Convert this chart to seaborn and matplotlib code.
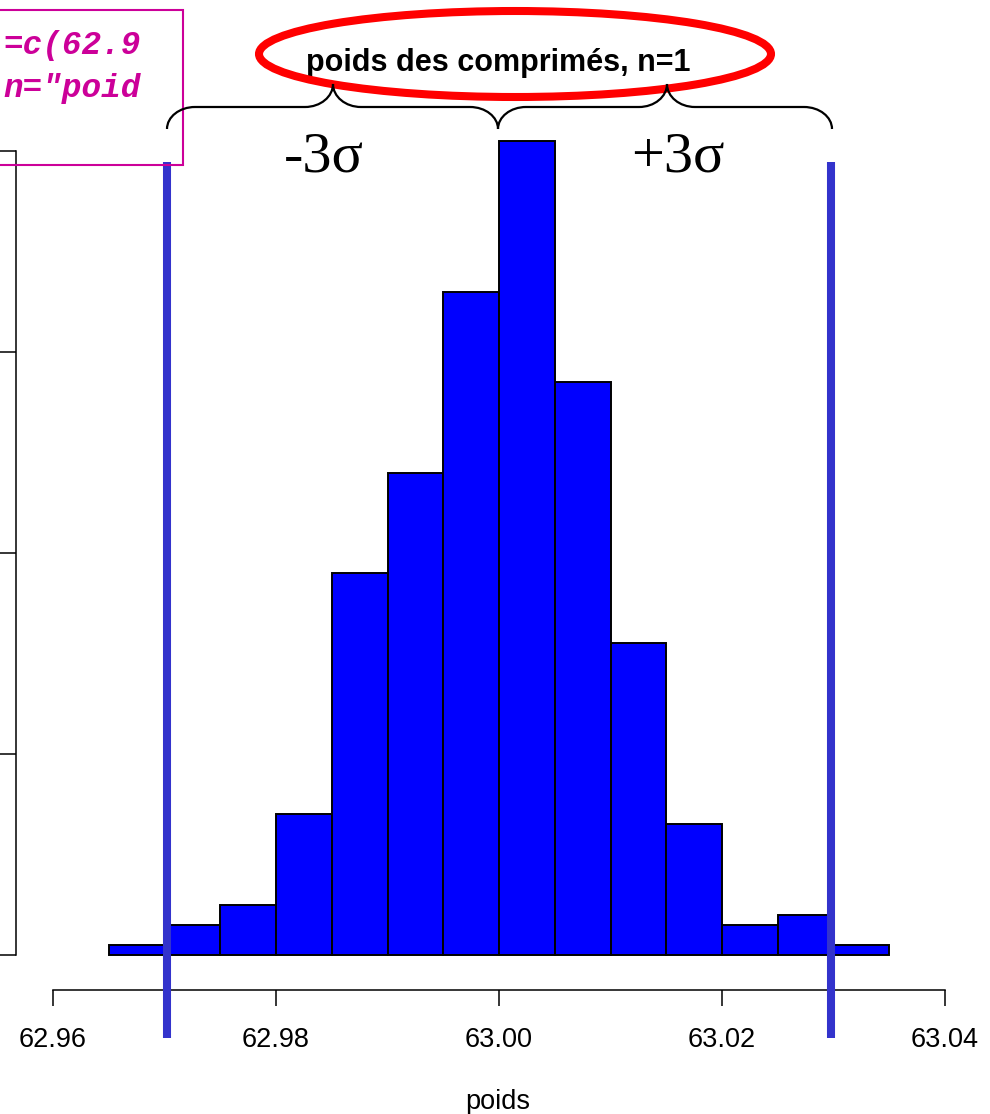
import numpy as np
import pandas as pd
import seaborn as sns
import matplotlib
matplotlib.use("Agg")
import matplotlib.pyplot as plt
from matplotlib.path import Path
from matplotlib.patches import PathPatch, Ellipse, Rectangle

# ---- data ----
bin_edges = [62.965, 62.970, 62.975, 62.980, 62.985, 62.990, 62.995, 63.000,
             63.005, 63.010, 63.015, 63.020, 63.025, 63.030, 63.035]
counts = [1, 3, 5, 14, 38, 48, 66, 81, 57, 31, 13, 3, 4, 1]
limits = [62.9702, 63.0298]          # mean -/+ 3 sigma
x_ticks = [62.96, 62.98, 63.00, 63.02, 63.04]
x_tick_labels = ["62.96", "62.98", "63.00", "63.02", "63.04"]
y_ticks = [0, 20, 40, 60, 80]
title = "poids des comprimés, n=1"
x_label = "poids"
code_lines = ["=c(62.9", 'n="poid']
sigma_labels = ["-3σ", "+3σ"]

centers = [(a + b) / 2 for a, b in zip(bin_edges[:-1], bin_edges[1:])]
df = pd.DataFrame({"poids": centers, "n": counts})

sns.set_style("ticks")
plt.rcParams["font.family"] = ["Liberation Sans", "DejaVu Sans"]
plt.rcParams["text.color"] = "black"
plt.rcParams["xtick.color"] = "black"
plt.rcParams["ytick.color"] = "black"
plt.rcParams["axes.labelcolor"] = "black"

W, H = 990, 1114
fig = plt.figure(figsize=(W / 100, H / 100), dpi=100)
ax = fig.add_axes([0, 0, 1, 1])
ax.patch.set_alpha(0)

# pixel anchors of the reference
px_per_x = (945 - 53) / 0.08
px_per_y = (955 - 151) / 80.0
x0 = 62.96 - 53 / px_per_x
ax.set_xlim(x0, x0 + W / px_per_x)
ax.set_ylim(-(H - 955) / px_per_y, 955 / px_per_y)

sns.histplot(data=df, x="poids", weights="n", bins=bin_edges, ax=ax,
             color="#0000FF", alpha=1, edgecolor="black", linewidth=1.4)

ax.vlines(limits, -(1038 - 955) / px_per_y, (955 - 162) / px_per_y,
          colors="#3333CC", linewidth=5.8, zorder=5)

# R-like detached axes
sns.despine(ax=ax)
ax.spines["bottom"].set_position(("data", -(990 - 955) / px_per_y))
ax.spines["bottom"].set_bounds(62.96, 63.04)
ax.spines["left"].set_position(("data", 62.96 - 37 / px_per_x))
ax.spines["left"].set_bounds(0, 80)
for s in ("bottom", "left"):
    ax.spines[s].set_linewidth(1.1)
    ax.spines[s].set_color("black")
ax.set_xticks(x_ticks)
ax.set_xticklabels(x_tick_labels)
ax.set_yticks(y_ticks)
ax.set_yticklabels([""] * len(y_ticks))
ax.tick_params(axis="both", direction="out", length=11.5, width=1.1,
               color="black", labelcolor="black")
ax.tick_params(axis="x", labelsize=19.5, pad=15)
ax.set_ylabel("")
ax.set_xlabel(x_label, fontsize=19.5, color="black")
ax.xaxis.set_label_coords(498 / W, 1 - 1089 / H)
ax.xaxis.label.set_va("top")


def fx(x):
    return x / W


def fy(y):
    return 1 - y / H


# magenta code box (cropped at the left edge)
fig.patches.append(Rectangle((fx(-10), fy(165)), fx(193), (165 - 10) / H,
                             transform=fig.transFigure, fill=False,
                             edgecolor="#CC0099", linewidth=1.5, zorder=3))
for txt, yb in zip(code_lines, [54, 97]):
    fig.text(fx(141), fy(yb), txt, ha="right", va="baseline",
             family=["Liberation Mono", "DejaVu Sans Mono"], fontsize=23.5,
             fontweight="bold", fontstyle="italic", color="#CC0099")

# title
fig.text(fx(498), fy(71), title, ha="center", va="baseline",
         fontsize=22, fontweight="bold", color="black")

# red ellipse
fig.patches.append(Ellipse((fx(515), fy(54)), 512 / W, 86 / H,
                           transform=fig.transFigure, fill=False,
                           edgecolor="#FF0000", linewidth=5.8, zorder=6))


def brace(xa, xb, xm, yb, yt, ye, rx=28):
    k = 0.552
    ry1 = ye - yb
    ry2 = yb - yt
    pts = [(xa, ye),
           (xa, ye - k * ry1), (xa + rx - k * rx, yb), (xa + rx, yb),
           (xm - rx, yb),
           (xm - rx + k * rx, yb), (xm, yt + k * ry2), (xm, yt),
           (xm, yt + k * ry2), (xm + rx - k * rx, yb), (xm + rx, yb),
           (xb - rx, yb),
           (xb - rx + k * rx, yb), (xb, ye - k * ry1), (xb, ye)]
    codes = [Path.MOVETO,
             Path.CURVE4, Path.CURVE4, Path.CURVE4,
             Path.LINETO,
             Path.CURVE4, Path.CURVE4, Path.CURVE4,
             Path.CURVE4, Path.CURVE4, Path.CURVE4,
             Path.LINETO,
             Path.CURVE4, Path.CURVE4, Path.CURVE4]
    verts = [(fx(x), fy(y)) for x, y in pts]
    fig.patches.append(PathPatch(Path(verts, codes), transform=fig.transFigure,
                                 fill=False, edgecolor="black", linewidth=1.6,
                                 zorder=7))


brace(167, 498, 333, 107, 84, 129)
brace(498, 832, 667, 107, 84, 129)

for txt, xc in zip(sigma_labels, [324, 678]):
    fig.text(fx(xc), fy(172), txt, ha="center", va="baseline",
             family=["Liberation Serif", "DejaVu Serif"], fontsize=42,
             color="black")

fig.savefig("out.png", dpi=100)
